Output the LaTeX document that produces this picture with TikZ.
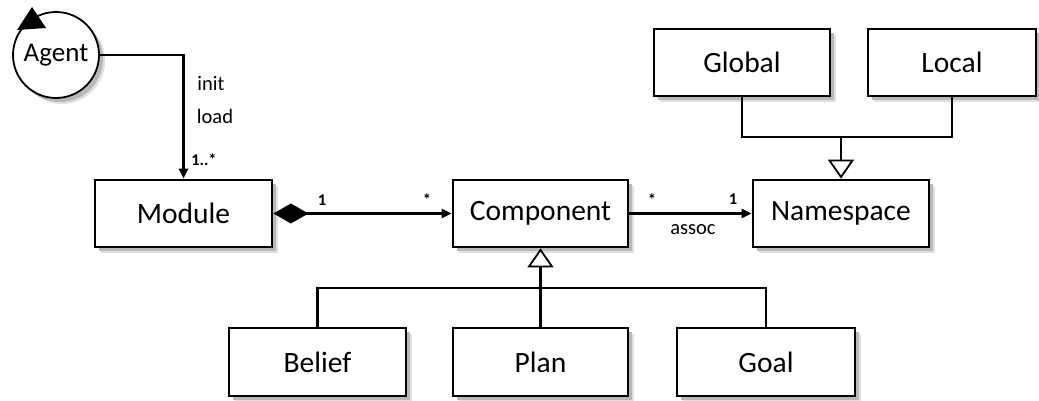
\documentclass[tikz,border=0pt]{standalone}
\usepackage{fontspec}
\setmainfont{Carlito}
\usetikzlibrary{arrows.meta,shadows}
\begin{document}
\begin{tikzpicture}[x=1pt,y=-1pt,
  shd/.style={general shadow={shadow xshift=6pt, shadow yshift=-6pt, fill=black!12},
              general shadow={shadow xshift=4pt, shadow yshift=-4pt, fill=black!28}},
  cls/.style={draw, line width=2.8pt, fill=white, rectangle, inner sep=0pt,
    font=\fontsize{29.5}{32}\selectfont, shd},
  conn/.style={line width=2.4pt},
  arr/.style={conn, -{Triangle[length=10pt,width=9pt]}},
  gen/.style={conn, -{Triangle[open, fill=white, length=19pt, width=26pt, line width=1.8pt]}},
  lab/.style={font=\fontsize{20.5}{23}\selectfont, inner sep=0pt},
  mult/.style={font=\fontsize{16.5}{19}\selectfont\bfseries, inner sep=0pt}]
\useasboundingbox (0,0) rectangle (1039,401);

\node[cls, circle, minimum size=86pt, line width=1.8pt, font=\fontsize{27}{30}\selectfont] (agent) at (56,55) {Agent};
\fill (17,30) -- (32,7) -- (46,28) -- cycle;

\node[cls, minimum width=177pt, minimum height=67pt] (module) at (183.5,213.5) {Module};
\node[cls, minimum width=175pt, minimum height=67pt] (component) at (540.5,213.5) {Component};
\node[cls, minimum width=176pt, minimum height=67pt] (namespace) at (841,213.5) {Namespace};
\node[cls, minimum width=176pt, minimum height=67pt] (global) at (742,62.5) {Global};
\node[cls, minimum width=168pt, minimum height=67pt] (local) at (952,62.5) {Local};
\node[cls, minimum width=177pt, minimum height=68pt] (belief) at (317.5,362) {Belief};
\node[cls, minimum width=175pt, minimum height=68pt] (plan) at (540.5,362) {Plan};
\node[cls, minimum width=178pt, minimum height=68pt] (goal) at (766,362) {Goal};

% Agent -> Module
\draw[arr] (agent.east) -| (module.north);
\node[lab] (linit) at (211,84) {init};
\node[lab] (lload) at (215,116) {load};
\node[mult] (m1) at (204,160) {1..*};

% Module <>-> Component
\draw[conn, {Diamond[length=35pt,width=20pt]}-{Triangle[length=10pt,width=9pt]}] (module.east) -- (component.west);
\node[mult] (m2) at (322,200) {1};
\node[mult] (m3) at (427,200) {*};

% Component -> Namespace
\draw[arr] (component.east) -- (namespace.west);
\node[mult] (m4) at (652,200) {*};
\node[mult] (m5) at (733,199) {1};
\node[lab] (lassoc) at (693,230) {assoc};

% Generalization to Component
\coordinate (jc) at (540.5,288);
\draw[conn] (belief.north) |- (jc) -| (goal.north);
\draw[gen] (plan.north) -- (component.south);

% Generalization to Namespace
\coordinate (jn) at (841,137);
\draw[conn] (global.south) |- (jn) -| (local.south);
\draw[gen] (jn) -- (namespace.north);
\end{tikzpicture}
\end{document}
